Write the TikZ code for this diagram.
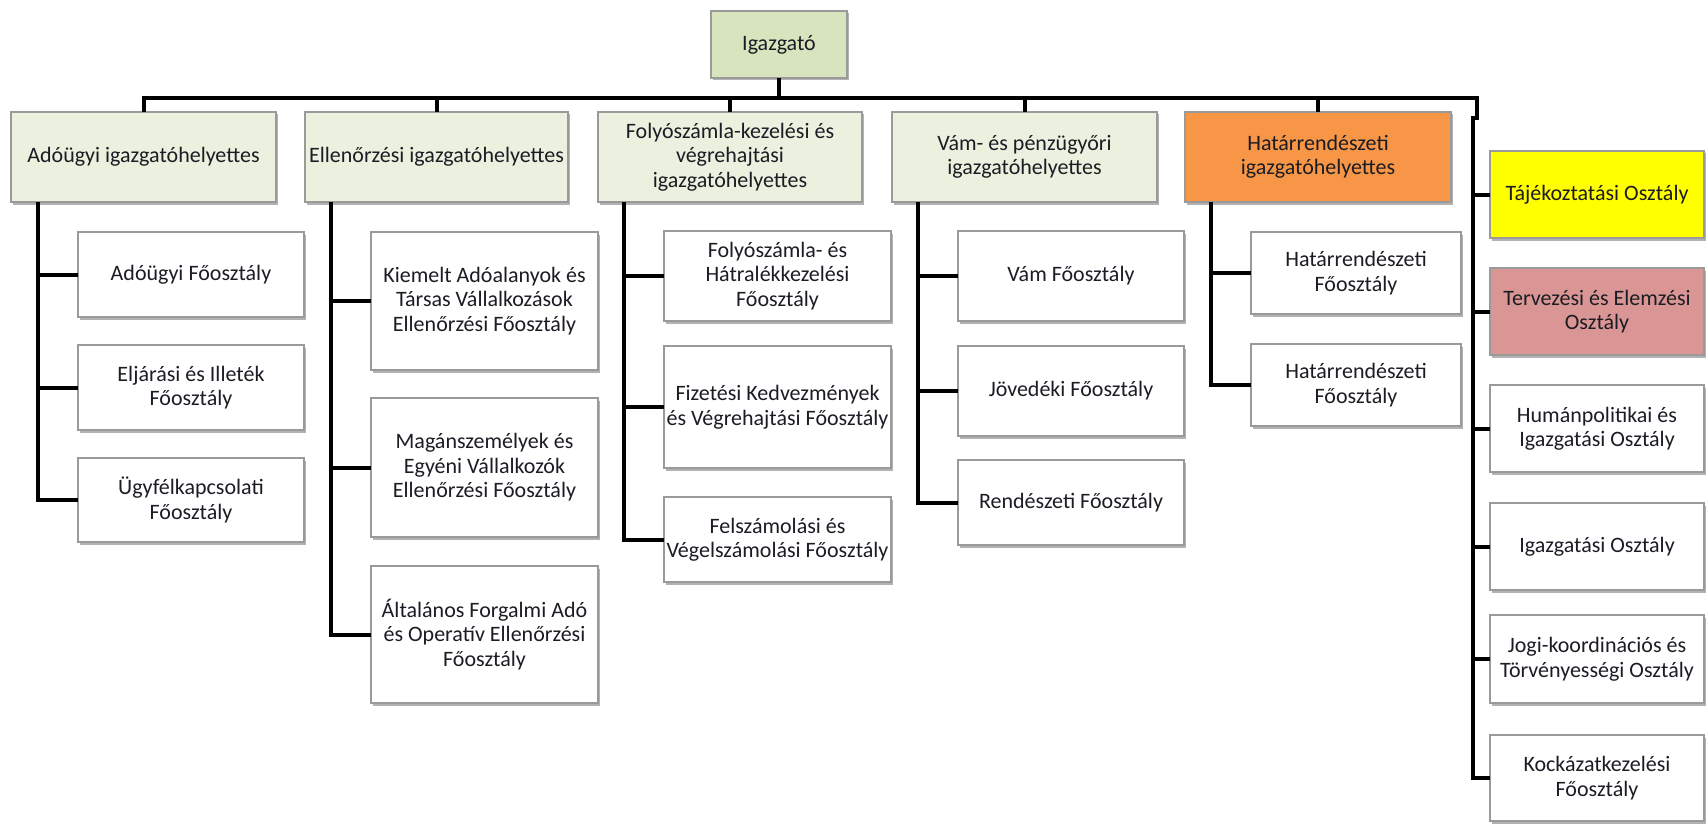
\documentclass[tikz,border=0pt]{standalone}
\usepackage{fontspec}
\setmainfont{Carlito}
\usetikzlibrary{shadows}
\definecolor{lvlA}{HTML}{D7E4BD}
\definecolor{lvlB}{HTML}{EBF1DE}
\definecolor{orng}{HTML}{F79646}
\definecolor{rosy}{HTML}{D99694}
\definecolor{ylw}{HTML}{FFFF00}
\definecolor{edgegray}{HTML}{9A9A9A}
\definecolor{ink}{HTML}{1C1C24}
\tikzset{
  unit/.style={draw=edgegray, line width=1.2pt, inner sep=0pt, outer sep=0pt,
    align=center, font=\fontsize{22}{24.5}\selectfont, text=ink,
    drop shadow={shadow xshift=1.5pt, shadow yshift=-2.5pt, opacity=0.3, fill=black}},
  topbox/.style={unit, fill=lvlA},
  deputy/.style={unit, fill=lvlB},
  border/.style={unit, fill=orng},
  infobox/.style={unit, fill=ylw},
  planbox/.style={unit, fill=rosy},
  dept/.style={unit, fill=white},
  conn/.style={line width=4pt, line join=miter, draw=black},
}
\newcommand\orgbox[7]{\node[#1, minimum width={(#5-#3)*1pt}, minimum height={(#6-#4)*1pt}] (#2) at ({(#3+#5)/2},{(#4+#6)/2}) {#7};}
\begin{document}
\begin{tikzpicture}[x=1pt,y=-1pt]
\fill[white] (0,0) rectangle (1708,824);
\useasboundingbox (0,0) rectangle (1708,824);

% director
\orgbox{topbox}{ig}{711}{11}{847}{78}{Igazgató}
% deputies
\orgbox{deputy}{l1}{11}{112}{276}{202}{Adóügyi igazgatóhelyettes}
\orgbox{deputy}{l2}{305}{112}{568}{202}{Ellenőrzési igazgatóhelyettes}
\orgbox{deputy}{l3}{598}{112}{862}{202}{Folyószámla-kezelési és\\végrehajtási\\igazgatóhelyettes}
\orgbox{deputy}{l4}{892}{112}{1157}{202}{Vám- és pénzügyőri\\igazgatóhelyettes}
\orgbox{border}{l5}{1185}{112}{1451}{202}{Határrendészeti\\igazgatóhelyettes}

% column 1
\orgbox{dept}{s11}{78}{232}{304}{317}{Adóügyi Főosztály}
\orgbox{dept}{s12}{78}{345}{304}{430}{Eljárási és Illeték\\Főosztály}
\orgbox{dept}{s13}{78}{458}{304}{542}{Ügyfélkapcsolati\\Főosztály}
% column 2
\orgbox{dept}{s21}{371}{232}{598}{370}{Kiemelt Adóalanyok és\\Társas Vállalkozások\\Ellenőrzési Főosztály}
\orgbox{dept}{s22}{371}{398}{598}{537}{Magánszemélyek és\\Egyéni Vállalkozók\\Ellenőrzési Főosztály}
\orgbox{dept}{s23}{371}{566}{598}{703}{Általános Forgalmi Adó\\és Operatív Ellenőrzési\\Főosztály}
% column 3
\orgbox{dept}{s31}{664}{231}{891}{321}{Folyószámla- és\\Hátralékkezelési\\Főosztály}
\orgbox{dept}{s32}{664}{346}{891}{468}{Fizetési Kedvezmények\\és Végrehajtási Főosztály}
\orgbox{dept}{s33}{664}{497}{891}{582}{Felszámolási és\\Végelszámolási Főosztály}
% column 4
\orgbox{dept}{s41}{958}{231}{1184}{321}{Vám Főosztály}
\orgbox{dept}{s42}{958}{346}{1184}{436}{Jövedéki Főosztály}
\orgbox{dept}{s43}{958}{460}{1184}{545}{Rendészeti Főosztály}
% column 5
\orgbox{dept}{s51}{1251}{232}{1461}{314}{Határrendészeti\\Főosztály}
\orgbox{dept}{s52}{1251}{344}{1461}{426}{Határrendészeti\\Főosztály}
% right column
\orgbox{infobox}{r1}{1490}{151}{1704}{238}{Tájékoztatási Osztály}
\orgbox{planbox}{r2}{1490}{268}{1704}{355}{Tervezési és Elemzési\\Osztály}
\orgbox{dept}{r3}{1490}{385}{1704}{472}{Humánpolitikai és\\Igazgatási Osztály}
\orgbox{dept}{r4}{1490}{503}{1704}{590}{Igazgatási Osztály}
\orgbox{dept}{r5}{1490}{615}{1704}{703}{Jogi-koordinációs és\\Törvényességi Osztály}
\orgbox{dept}{r6}{1490}{735}{1704}{821}{Kockázatkezelési\\Főosztály}

% bus and right spine
\coordinate (busR) at (1477,98);
\coordinate (jog) at (1477,118);
\coordinate (vtop) at (1473,118);
\draw[conn] (l1.north) |- (busR) -- (jog) -- (vtop) |- (r6.west);
\draw[conn] (ig.south) -- (ig.south |- busR);
\foreach \n in {l2,l3,l4,l5} \draw[conn] (\n.north) -- (\n.north |- busR);
\foreach \n in {r1,r2,r3,r4,r5} \draw[conn] (\n.west -| vtop) -- (\n.west);

% columns
\coordinate (v1) at ([xshift=26.5pt]l1.south west);
\coordinate (v2) at ([xshift=26pt]l2.south west);
\coordinate (v3) at ([xshift=26pt]l3.south west);
\coordinate (v4) at ([xshift=26pt]l4.south west);
\coordinate (v5) at ([xshift=26pt]l5.south west);
\draw[conn] (v1) |- (s13.west);
\foreach \n in {s11,s12} \draw[conn] (\n.west -| v1) -- (\n.west);
\draw[conn] (v2) |- (s23.west);
\foreach \n in {s21,s22} \draw[conn] (\n.west -| v2) -- (\n.west);
\draw[conn] (v3) |- (s33.west);
\foreach \n in {s31,s32} \draw[conn] (\n.west -| v3) -- (\n.west);
\draw[conn] (v4) |- (s43.west);
\foreach \n in {s41,s42} \draw[conn] (\n.west -| v4) -- (\n.west);
\draw[conn] (v5) |- (s52.west);
\draw[conn] (s51.west -| v5) -- (s51.west);
\end{tikzpicture}
\end{document}
